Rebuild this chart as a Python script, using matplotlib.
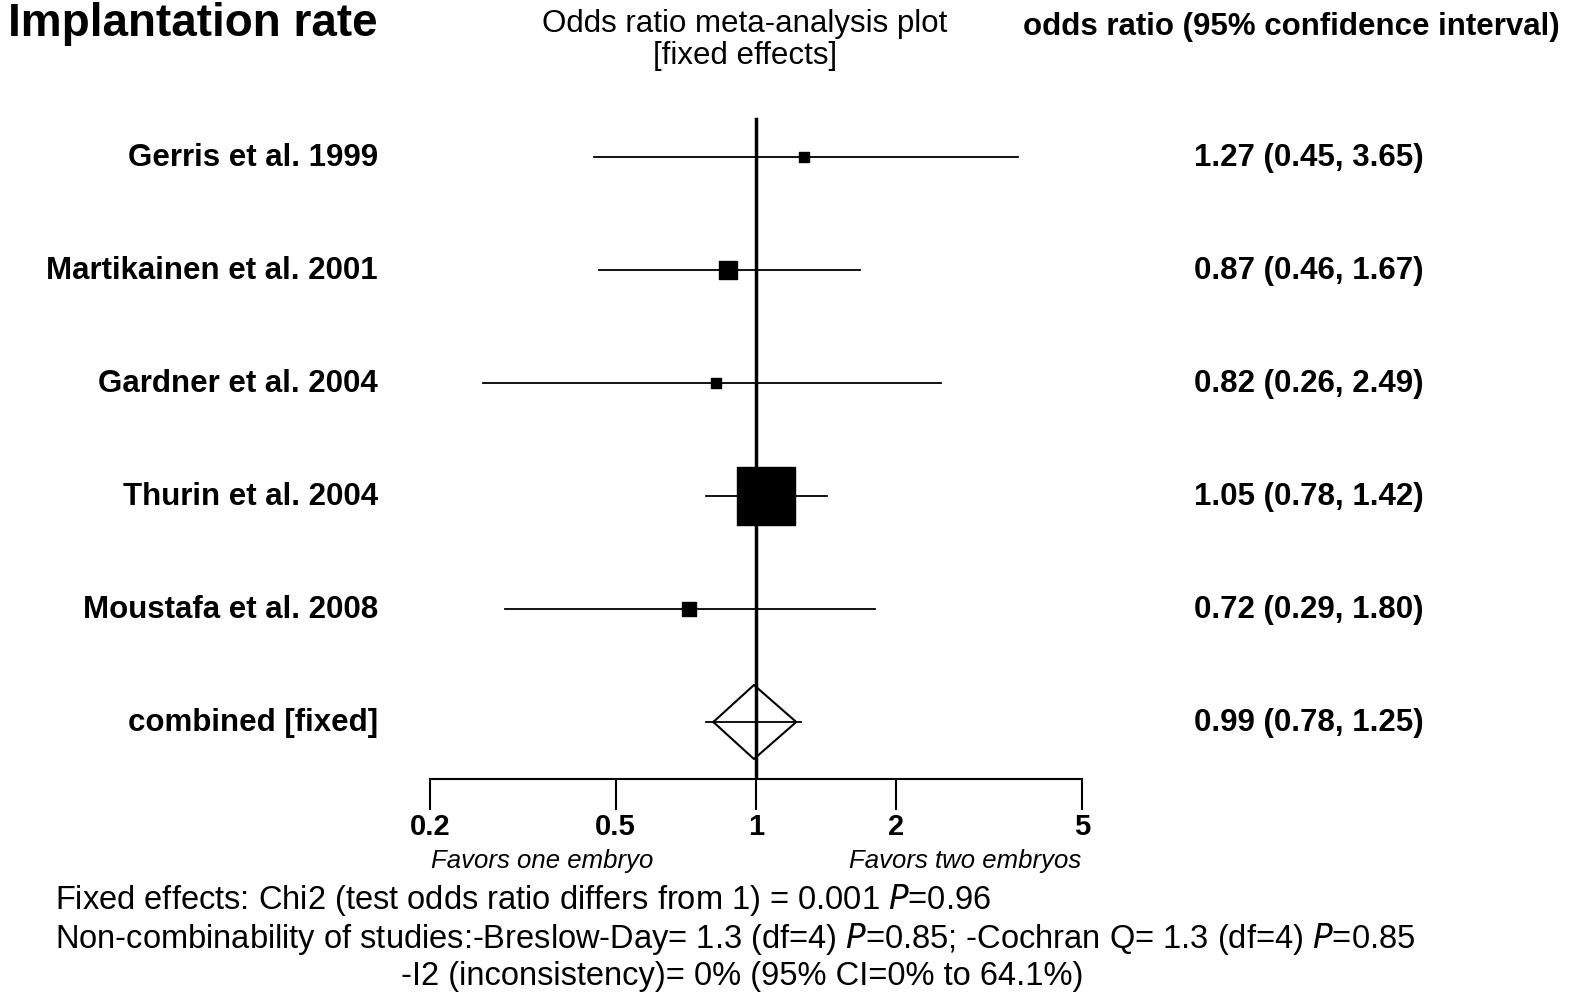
import numpy as np
from matplotlib import pyplot as plt

plt.rcParams['font.family'] = ['Liberation Sans', 'DejaVu Sans']

studies = ["Gerris et al. 1999", "Martikainen et al. 2001", "Gardner et al. 2004",
           "Thurin et al. 2004", "Moustafa et al. 2008"]
odds = [1.27, 0.87, 0.82, 1.05, 0.72]
lower = [0.45, 0.46, 0.26, 0.78, 0.29]
upper = [3.65, 1.67, 2.49, 1.42, 1.80]
weights = [52, 168, 52, 1745, 100]   # marker area
pooled = (0.99, 0.78, 1.25)
ticks = [0.2, 0.5, 1, 2, 5]

W, H = 1569, 1004
fig = plt.figure(figsize=(W / 100, H / 100), dpi=100)

def fx(px):
    return px / W

def fy(py):
    return 1 - py / H

ax = fig.add_axes([fx(430), fy(780), fx(652), fy(100) - fy(780)])
ax.set_xscale('log')
ax.set_xlim(0.2, 5)
row0, step = 158, 113
ax.set_ylim((780 - row0) / step, (100 - row0) / step)
for s in ['top', 'right', 'left']:
    ax.spines[s].set_visible(False)
ax.spines['bottom'].set_linewidth(1.5)
ax.set_yticks([])
ax.set_xticks(ticks)
ax.set_xticklabels(['0.2', '0.5', '1', '2', '5'], fontsize=21, fontweight='bold')
ax.minorticks_off()
ax.tick_params(axis='x', length=22, width=1.5, pad=2)

ax.axvline(1, ymin=0, ymax=(780 - 120) / 680, color='black', lw=2.5)

for i in range(len(studies)):
    ax.plot([lower[i], upper[i]], [i, i], color='black', lw=1.3)
    ax.scatter([odds[i]], [i], marker='s', s=weights[i], color='black', zorder=3)
    fig.text(fx(378), fy(row0 + step * i), studies[i], ha='right', va='center',
             fontsize=22.5, fontweight='bold')
    fig.text(fx(1424), fy(row0 + step * i), f"{odds[i]:.2f} ({lower[i]:.2f}, {upper[i]:.2f})",
             ha='right', va='center', fontsize=22.5, fontweight='bold')

i = len(studies)
m, lo, hi = pooled
dh = 37 / step
ax.plot([0.81, m, 1.22, m, 0.81], [i, i - dh, i, i + dh, i], color='black', lw=1.5)
ax.plot([lo, hi], [i, i], color='black', lw=1.3)
fig.text(fx(378), fy(row0 + step * i), "combined [fixed]", ha='right', va='center',
         fontsize=22.5, fontweight='bold')
fig.text(fx(1424), fy(row0 + step * i), f"{m:.2f} ({lo:.2f}, {hi:.2f})",
         ha='right', va='center', fontsize=22.5, fontweight='bold')

fig.text(fx(8), fy(24), "Implantation rate", ha='left', va='center', fontsize=33, fontweight='bold')
fig.text(fx(745), fy(40), "Odds ratio meta-analysis plot\n[fixed effects]", ha='center',
         va='center', fontsize=22.5, linespacing=1.05)
fig.text(fx(1560), fy(27), "odds ratio (95% confidence interval)", ha='right', va='center',
         fontsize=22.5, fontweight='bold')

fig.text(fx(542), fy(861), "Favors one embryo", ha='center', va='center', fontsize=18.5, style='italic')
fig.text(fx(965), fy(861), "Favors two embryos", ha='center', va='center', fontsize=18.5, style='italic')

fig.text(fx(55), fy(900), "Fixed effects: Chi2 (test odds ratio differs from 1) = 0.001 $\\it{P}$=0.96",
         ha='left', va='center', fontsize=23.5)
fig.text(fx(55), fy(939), "Non-combinability of studies:-Breslow-Day= 1.3 (df=4) $\\it{P}$=0.85; "
         "-Cochran Q= 1.3 (df=4) $\\it{P}$=0.85", ha='left', va='center', fontsize=23.5)
fig.text(fx(742), fy(977), "-I2 (inconsistency)= 0% (95% CI=0% to 64.1%)", ha='center',
         va='center', fontsize=23.5)

fig.savefig('out.png', dpi=100)
